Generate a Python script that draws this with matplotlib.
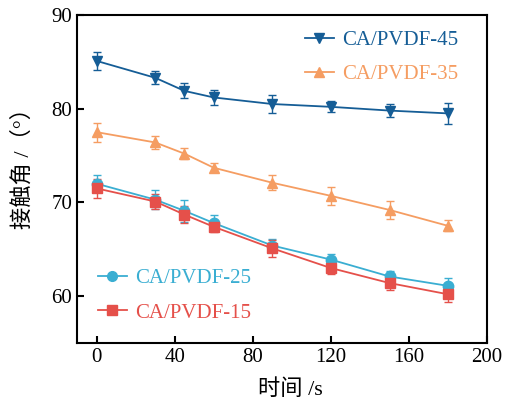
import matplotlib
matplotlib.use("Agg")
import matplotlib.pyplot as plt
from matplotlib.lines import Line2D

time_s = [0, 30, 45, 60, 90, 120, 150, 180]

pvdf45 = [85.1, 83.3, 81.9, 81.2, 80.5, 80.2, 79.8, 79.5]
pvdf45_err = [1.0, 0.7, 0.8, 0.8, 1.0, 0.6, 0.7, 1.1]
pvdf35 = [77.5, 76.4, 75.2, 73.7, 72.1, 70.7, 69.2, 67.5]
pvdf35_err = [1.0, 0.7, 0.6, 0.5, 0.8, 1.0, 1.0, 0.6]
pvdf25 = [72.0, 70.3, 69.1, 67.8, 65.4, 63.9, 62.1, 61.1]
pvdf25_err = [0.9, 1.0, 1.2, 0.9, 0.7, 0.6, 0.6, 0.8]
pvdf15 = [71.5, 70.1, 68.7, 67.4, 65.1, 63.0, 61.4, 60.2]
pvdf15_err = [1.0, 0.8, 0.9, 0.6, 0.9, 0.6, 0.7, 0.8]

series = [
    ("CA/PVDF-45", pvdf45, pvdf45_err, "#155d96", "v"),
    ("CA/PVDF-35", pvdf35, pvdf35_err, "#f59d62", "^"),
    ("CA/PVDF-25", pvdf25, pvdf25_err, "#3aaed2", "o"),
    ("CA/PVDF-15", pvdf15, pvdf15_err, "#e5504a", "s"),
]

plt.rcParams["font.family"] = ["Liberation Serif", "Noto Sans CJK SC"]

fig = plt.figure(figsize=(5.21, 4.05), dpi=100)
ax = fig.add_axes([0.148, 0.153, 0.787, 0.81])

handles = []
for label, vals, errs, color, marker in series:
    ax.errorbar(time_s, vals, yerr=errs, color=color, marker=marker,
                markersize=7.5, linewidth=1.3, elinewidth=1.0, capsize=3,
                ecolor=color, label=label)
    handles.append(Line2D([], [], color=color, marker=marker, markersize=7,
                          linewidth=1.3))

ax.set_xlim(-10, 200)
ax.set_ylim(55, 90)
ax.set_xticks([0, 40, 80, 120, 160, 200])
ax.set_yticks([60, 70, 80, 90])
ax.tick_params(direction="in", length=5, width=1.5, labelsize=15,
               top=False, right=False)
for s in ax.spines.values():
    s.set_linewidth(1.5)

ax.set_xlabel("时间 /s", fontsize=16)
ax.set_ylabel("接触角 /（°）", fontsize=16)
ax.xaxis.set_label_coords(0.52, -0.11)
ax.yaxis.set_label_coords(-0.107, 0.55)

leg1 = ax.legend(handles[:2], ["CA/PVDF-45", "CA/PVDF-35"], loc="upper right",
                 bbox_to_anchor=(0.975, 1.01), frameon=False, fontsize=15,
                 handlelength=1.4, handletextpad=0.4, labelspacing=0.7)
for t, (_, _, _, c, _) in zip(leg1.get_texts(), series[:2]):
    t.set_color(c)
ax.add_artist(leg1)
leg2 = ax.legend(handles[2:], ["CA/PVDF-25", "CA/PVDF-15"], loc="lower left",
                 bbox_to_anchor=(0.005, 0.005), frameon=False, fontsize=15,
                 handlelength=1.4, handletextpad=0.4, labelspacing=0.7)
for t, (_, _, _, c, _) in zip(leg2.get_texts(), series[2:]):
    t.set_color(c)

fig.savefig("out.png", dpi=100)
